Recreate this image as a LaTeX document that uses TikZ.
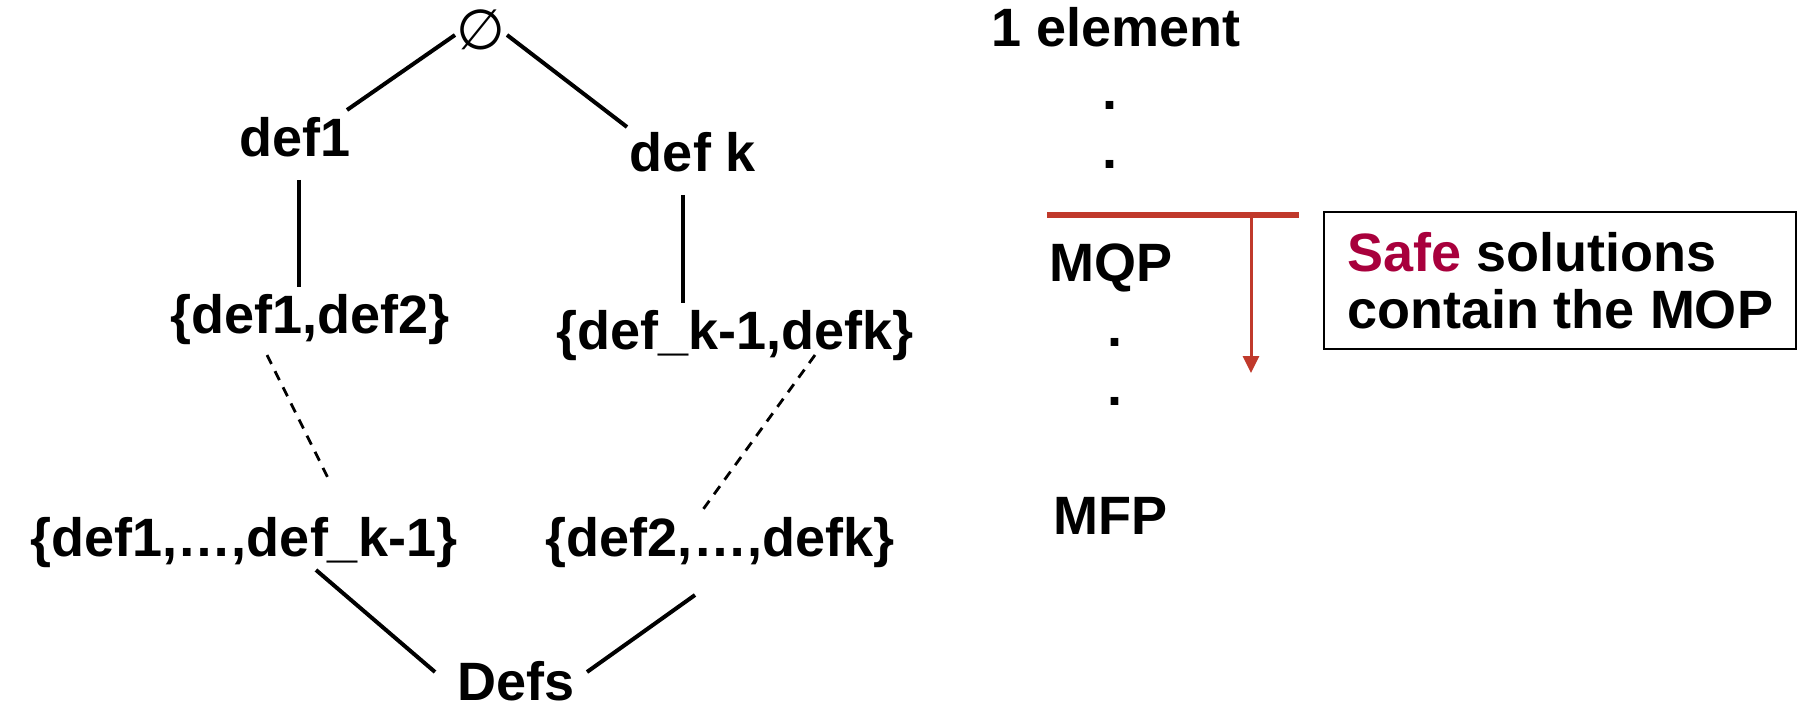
\documentclass[tikz,border=0pt]{standalone}
\usepackage{fontspec}
\setmainfont{Liberation Sans}
\newfontfamily\symfont{DejaVu Sans}
\usetikzlibrary{calc,arrows.meta}
\definecolor{cutred}{RGB}{192,57,43}
\definecolor{safered}{RGB}{168,0,60}
\begin{document}
\begin{tikzpicture}[x=0.5pt,y=-0.5pt,
  lbl/.style={inner sep=0pt, anchor=base, font=\fontsize{27}{28.5}\selectfont\bfseries},
  edge/.style={line width=2pt},
  dashedge/.style={line width=1.4pt, dash pattern=on 5pt off 4pt},
  cutline/.style={cutred, line width=3pt},
  cutarrow/.style={cutred, line width=1.5pt, -{Triangle[length=8.5pt,width=8pt]}},
  notebox/.style={draw, line width=1pt, anchor=north west, inner xsep=10pt, inner ysep=0pt,
    minimum width=236pt, minimum height=68.5pt, align=left, font=\fontsize{27}{28.5}\selectfont\bfseries},
]
\useasboundingbox (0,0) rectangle (1797,711);
% lattice
\node[inner sep=0pt, font=\symfont\fontsize{28}{28}\selectfont] (empty) at (481,30) {∅};
\node[lbl] (def1) at (295,157) {def1};
\node[lbl] (defk) at (693,172) {def k};
\node[lbl] (set12) at (310,333) {\{def1,def2\}};
\node[lbl] (setk) at (735,349) {\{def\_k-1,defk\}};
\node[lbl] (setL) at (244,556) {\{def1,…,def\_k-1\}};
\node[lbl] (setR) at (720,556) {\{def2,…,defk\}};
\node[lbl] (defs) at (516,700) {Defs};

\draw[edge] ($(empty.center)+(-26,5)$) -- ($(def1.base)+(52,-47)$);
\draw[edge] ($(empty.center)+(26,5)$) -- ($(defk.base)+(-66,-45)$);
\draw[edge] ($(def1.base)+(3.5,23)$) -- ($(set12.base)+(-11.5,-46)$);
\draw[edge] ($(defk.base)+(-10,23)$) -- ($(setk.base)+(-52,-46)$);
\draw[dashedge] ($(set12.base)+(-43,22)$) -- ($(setL.base)+(86,-74)$);
\draw[dashedge] ($(setk.base)+(80,6)$) -- ($(setR.base)+(-21,-41)$);
\draw[edge] ($(setL.base)+(72,14)$) -- ($(defs.base)+(-81,-28)$);
\draw[edge] ($(setR.base)+(-25,39)$) -- ($(defs.base)+(71,-28)$);

% chain
\node[lbl] (one) at (1116,47) {1 element};
\node[lbl] (d1) at (1110,110) {.};
\node[lbl] (d2) at (1110,169) {.};
\node[lbl] (mqp) at (1111,281) {MQP};
\node[lbl] (d3) at (1115,346) {.};
\node[lbl] (d4) at (1115,405) {.};
\node[lbl] (mfp) at (1110,534) {MFP};

\coordinate (cutL) at (1047,215);
\coordinate (cutR) at (1299,215);
\coordinate (arrS) at (1251,213);
\coordinate (arrE) at (1251,373);
\draw[cutline] (cutL) -- (cutR);
\draw[cutarrow] (arrS) -- (arrE);

\node[notebox] (note) at (1323,211) {{\color{safered}Safe} solutions\\contain the MOP};
\end{tikzpicture}
\end{document}
